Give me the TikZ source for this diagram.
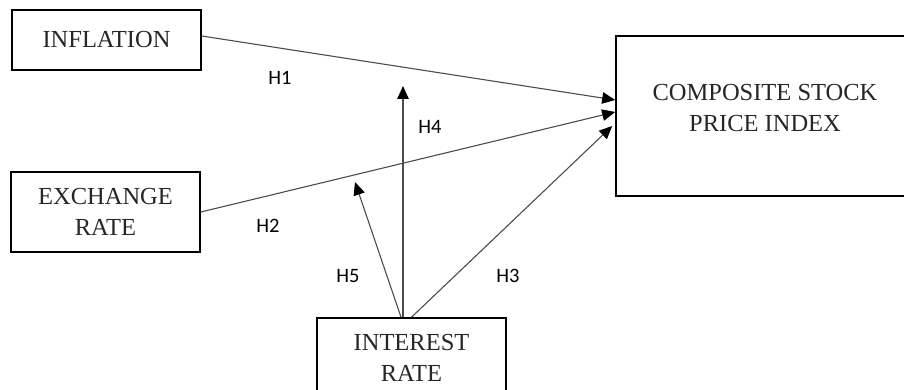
\documentclass[tikz,border=0pt]{standalone}
\usepackage{fontspec}
\setmainfont{Liberation Serif}
\newfontfamily\lblfont{Carlito}
\usetikzlibrary{arrows.meta}
\begin{document}
\begin{tikzpicture}[x=1pt,y=-1pt,
  varbox/.style={draw=black,line width=1.6pt,inner sep=0pt,align=center,
    font=\fontsize{24.5}{31}\selectfont,text=black!85},
  link/.style={draw=black!70,line width=1.1pt,
    -{Triangle[length=13pt,width=11.5pt,color=black,fill=black]}},
  hyp/.style={font=\lblfont\fontsize{20.5}{24}\selectfont,text=black}]
\useasboundingbox (0,0) rectangle (904,390);
\node[varbox,minimum width=189pt,minimum height=60pt] (infl) at (106.5,40) {INFLATION};
\node[varbox,minimum width=189pt,minimum height=80pt] (exch) at (105.5,212) {EXCHANGE\\RATE};
\node[varbox,minimum width=189pt,minimum height=80pt] (intr) at (411.5,358) {INTEREST\\RATE};
\node[varbox,minimum width=298pt,minimum height=160pt] (comp) at (765,116) {};
\node[font=\fontsize{24.5}{31}\selectfont,text=black!85,align=center] (comptext) at (765,108) {COMPOSITE STOCK\\PRICE INDEX};
\coordinate (c1) at ([yshift=16pt]comp.west);
\coordinate (c2) at ([yshift=4pt]comp.west);
\coordinate (c3) at ([xshift=-3pt,yshift=-10pt]comp.west);
\coordinate (h4end) at (403,86);
\coordinate (h5end) at (355,182);
\draw[link] ([yshift=4pt]infl.east) -- (c1);
\draw[link] (exch.east) -- (c2);
\draw[link] (intr.north) -- (c3);
\draw[link] ([xshift=-8.5pt]intr.north) -- (h4end);
\draw[link] ([xshift=-10.5pt]intr.north) -- (h5end);
\node[hyp] (H1) at (280,78) {H1};
\node[hyp] (H2) at (268,226) {H2};
\node[hyp] (H3) at (508,276) {H3};
\node[hyp] (H4) at (430,127) {H4};
\node[hyp] (H5) at (348,276) {H5};
\end{tikzpicture}
\end{document}
